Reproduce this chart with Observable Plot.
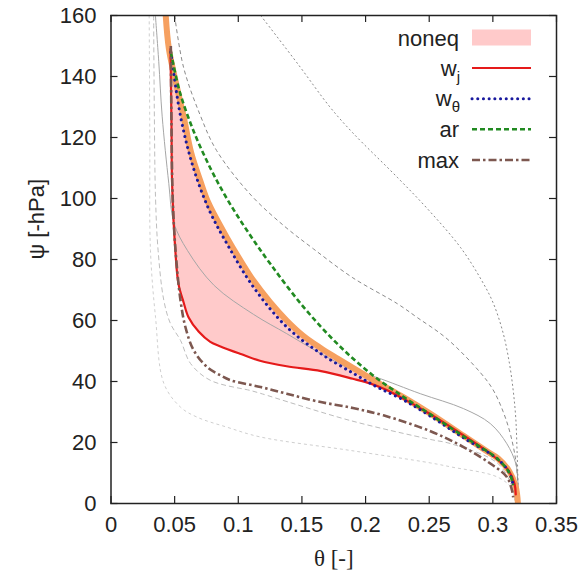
<!DOCTYPE html>
<html>
<head>
<meta charset="utf-8">
<script src="https://cdn.jsdelivr.net/npm/d3@7"></script>
<script src="https://cdn.jsdelivr.net/npm/@observablehq/plot@0.6"></script>
<style>
  html, body { margin: 0; padding: 0; background: #fff; }
  #chart { position: relative; width: 583px; height: 578px; }
</style>
</head>
<body>
<div id="chart"></div>
<script>
// ---- data: [theta, psi] pairs ----
const xTicks = [0, 0.05, 0.1, 0.15, 0.2, 0.25, 0.3, 0.35];
const yTicks = [0, 20, 40, 60, 80, 100, 120, 140, 160];

const wj = [
  [0.0467,149],[0.0475,125],[0.048,105],[0.0507,82],[0.053,72],[0.057,66],[0.061,61],
  [0.069,56.3],[0.078,53],[0.086,51.5],[0.102,49],[0.117,46.8],[0.138,45],[0.165,43.4],
  [0.19,40.9],[0.204,39.3],[0.217,37.1],[0.23,34.3],[0.25,29.5],[0.277,22.3],[0.30,15.7],
  [0.312,11],[0.317,6.5],[0.318,3]
];
const upper = [
  [0.043,160],
  [0.0455,149],[0.051,138],[0.057,127],[0.063,115],[0.070,106],[0.0766,98.5],[0.0913,87],
  [0.102,79.5],[0.112,73],[0.125,66],[0.138,60],[0.151,55],[0.1646,51],[0.178,47.5],
  [0.1907,44.3],[0.209,39.8],[0.23,34.8],[0.251,29.4],[0.277,22.2],[0.295,17.2],
  [0.304,14.8],[0.313,10.5],[0.318,5.5],[0.3197,0]
];
const wtheta = [
  [0.047,148],[0.048,145],[0.0546,127],[0.064,111],[0.0766,96.7],[0.0913,85],[0.112,70.9],
  [0.138,57.9],[0.1646,49.2],[0.1907,42.6],[0.209,38.2],[0.23,33.9],[0.251,28.6],
  [0.277,21.5],[0.304,14.5],[0.313,10],[0.316,6]
];
const ar = [
  [0.047,148],[0.048,146],[0.054,135],[0.065,122],[0.078,110],[0.091,100],[0.107,89.4],
  [0.1253,78.5],[0.1515,64.3],[0.1777,52.4],[0.204,42.6],[0.23,34.9],[0.251,29.2],
  [0.277,22],[0.304,14.5],[0.313,10],[0.316,6]
];
const maxc = [
  [0.047,150],[0.0475,125],[0.0485,100],[0.0507,83],[0.0546,66.6],[0.0585,57.8],[0.065,50.2],
  [0.0756,44.7],[0.086,42],[0.094,40.4],[0.1175,38.2],[0.138,36],[0.162,33.5],[0.19,31.3],
  [0.214,28.9],[0.251,23.7],[0.277,18.5],[0.298,13.1],[0.311,8.7],[0.315,4.4],[0.316,2]
];
const graySolid = [
  [0.0349,160],[0.0375,145],[0.0402,127],[0.0454,105],[0.0494,92],[0.060,83],[0.081,71.5],
  [0.112,62],[0.138,55.7],[0.1646,49.2],[0.1907,43.6],[0.209,41.3],[0.243,36],[0.277,31.1],
  [0.298,26.2],[0.311,19.6],[0.318,13.1],[0.3196,7.6],[0.32,0]
];
const grayDashed = [
  [0.050,160],[0.057,143],[0.070,127.4],[0.083,115.7],[0.11,101.1],[0.136,91],[0.159,83.5],
  [0.19,74],[0.225,65.5],[0.2405,61],[0.264,54],[0.29,43],[0.30,37.4],[0.308,30.2],
  [0.314,22.4],[0.3185,12.5],[0.32,0]
];
const grayDotted = [
  [0.1176,160],[0.147,144],[0.172,130],[0.19,121.5],[0.2248,107],[0.25,96],[0.2745,84],
  [0.29,74],[0.300,66],[0.308,56],[0.313,46],[0.316,37],[0.318,28],[0.319,17.4],[0.3198,6],[0.32,0]
];
const lightDashed = [
  [0.0335,160],[0.034,130],[0.035,100],[0.037,83],[0.0415,66.6],[0.0467,59],[0.0546,53.5],
  [0.0625,45.9],[0.078,40.4],[0.11,37],[0.1175,36.1],[0.188,27.2],[0.251,21],[0.267,19.6],
  [0.304,13.1],[0.316,4.4],[0.317,1]
];
const lightestDashed = [
  [0.030,160],[0.0305,120],[0.031,83],[0.035,61],[0.0415,39.4],[0.0546,31.6],[0.0677,28.3],
  [0.0913,25],[0.1175,21.8],[0.188,17.4],[0.251,13.3],[0.267,12],[0.304,8.6],[0.316,4.4],[0.317,1]
];

// fill between w_j and the upper (orange) curve, paired point by point
const noneqFill = wj.map((p, i) => ({x1: p[0], y1: p[1], x2: upper[i + 1][0], y2: upper[i + 1][1]}));

const W = 583, H = 578, ML = 110.5, MR = 27, MT = 15, MB = 75;
const FW = W - ML - MR, FH = H - MT - MB, TK = 7;
const X = d => d[0], Y = d => d[1];
const C = "catmull-rom";
const dashed = {strokeLinecap: "butt", strokeLinejoin: "round", clip: true};

const chart = Plot.plot({
  width: W, height: H,
  marginLeft: ML, marginRight: MR, marginTop: MT, marginBottom: MB,
  style: {fontFamily: "Liberation Sans, Arial, sans-serif", fontSize: "22px", color: "#222", background: "#fff"},
  x: {domain: [0, 0.35]},
  y: {domain: [0, 160]},
  marks: [
    Plot.area(noneqFill, {x1: "x1", y1: "y1", x2: "x2", y2: "y2", curve: C, fill: "#ffcaca", fillOpacity: 1, clip: true}),
    Plot.line(lightestDashed, {x: X, y: Y, curve: C, stroke: "#cfcfcf", strokeWidth: 1, strokeDasharray: "3,3", ...dashed}),
    Plot.line(lightDashed, {x: X, y: Y, curve: C, stroke: "#bdbdbd", strokeWidth: 1, strokeDasharray: "5,3", ...dashed}),
    Plot.line(graySolid, {x: X, y: Y, curve: C, stroke: "#a6a6a6", strokeWidth: 1, clip: true}),
    Plot.line(grayDashed, {x: X, y: Y, curve: C, stroke: "#8a8a8a", strokeWidth: 1, strokeDasharray: "4,3", ...dashed}),
    Plot.line(grayDotted, {x: X, y: Y, curve: C, stroke: "#8a8a8a", strokeWidth: 1, strokeDasharray: "2,2.5", ...dashed}),
    Plot.line(upper, {x: X, y: Y, curve: C, stroke: "#f6a060", strokeWidth: 6, clip: true}),
    Plot.line(wj, {x: X, y: Y, curve: C, stroke: "#e51a1a", strokeWidth: 2.2, clip: true}),
    Plot.line(wtheta, {x: X, y: Y, curve: C, stroke: "#1a1a9e", strokeWidth: 3, strokeDasharray: "0.1,5.6", strokeLinecap: "round", clip: true}),
    Plot.line(ar, {x: X, y: Y, curve: C, stroke: "#218a21", strokeWidth: 2.6, strokeDasharray: "5,3", ...dashed}),
    Plot.line(maxc, {x: X, y: Y, curve: C, stroke: "#7d5850", strokeWidth: 2.6, strokeDasharray: "8,3,2.5,3", ...dashed}),
    // inward ticks, mirrored on all four sides
    Plot.tickX(xTicks, {x: d => d, insetTop: FH - TK, stroke: "#222", strokeWidth: 1.2}),
    Plot.tickX(xTicks, {x: d => d, insetBottom: FH - TK, stroke: "#222", strokeWidth: 1.2}),
    Plot.tickY(yTicks, {y: d => d, insetRight: FW - TK, stroke: "#222", strokeWidth: 1.2}),
    Plot.tickY(yTicks, {y: d => d, insetLeft: FW - TK, stroke: "#222", strokeWidth: 1.2}),
    Plot.frame({stroke: "#222", strokeWidth: 1.5}),
    Plot.axisX({ticks: xTicks, tickSize: 0, tickPadding: 13, tickFormat: d => String(+d.toFixed(2)), label: null, fill: "#222"}),
    Plot.axisY({ticks: yTicks, tickSize: 0, tickPadding: 14.5, label: null, fill: "#222"}),
    Plot.text(["θ [-]"], {frameAnchor: "bottom", dy: 62, fontFamily: "Liberation Serif, Times New Roman, serif", fontSize: 23, fill: "#222"}),
    Plot.text(["ψ [-hPa]"], {frameAnchor: "left", dx: -74, rotate: -90, fontSize: 22, fill: "#222"})
  ]
});

document.getElementById("chart").appendChild(chart);

// ---- legend (inside the plot, top right) ----
const legendItems = [
  {label: "noneq", sub: null, kind: "fill", color: "#ffcaca"},
  {label: "w", sub: "j", kind: "line", color: "#e51a1a", width: 2.2, dash: null},
  {label: "w", sub: "θ", kind: "line", color: "#1a1a9e", width: 3, dash: "0.1,5.6", cap: "round"},
  {label: "ar", sub: null, kind: "line", color: "#218a21", width: 2.6, dash: "5,3"},
  {label: "max", sub: null, kind: "line", color: "#7d5850", width: 2.6, dash: "8,3,2.5,3"}
];
const svg = d3.select(chart);
const lg = svg.append("g").attr("font-family", "Liberation Sans, Arial, sans-serif").attr("fill", "#222");
const rowY = [38, 68, 98.7, 129.3, 160];
legendItems.forEach((it, i) => {
  const y = rowY[i];
  const t = lg.append("text").attr("x", it.sub ? 460 : 459).attr("y", y + 7.5).attr("text-anchor", "end").attr("font-size", 22);
  t.append("tspan").text(it.label);
  if (it.sub) t.append("tspan").attr("dy", 6).attr("font-size", 15).text(it.sub);
  if (it.kind === "fill") {
    lg.append("rect").attr("x", 472).attr("y", y - 8.5).attr("width", 59).attr("height", 16).attr("fill", it.color);
  } else {
    const l = lg.append("line").attr("x1", 472).attr("x2", 531).attr("y1", y).attr("y2", y)
      .attr("stroke", it.color).attr("stroke-width", it.width);
    if (it.dash) l.attr("stroke-dasharray", it.dash);
    if (it.cap) l.attr("stroke-linecap", it.cap);
  }
});
</script>
</body>
</html>
